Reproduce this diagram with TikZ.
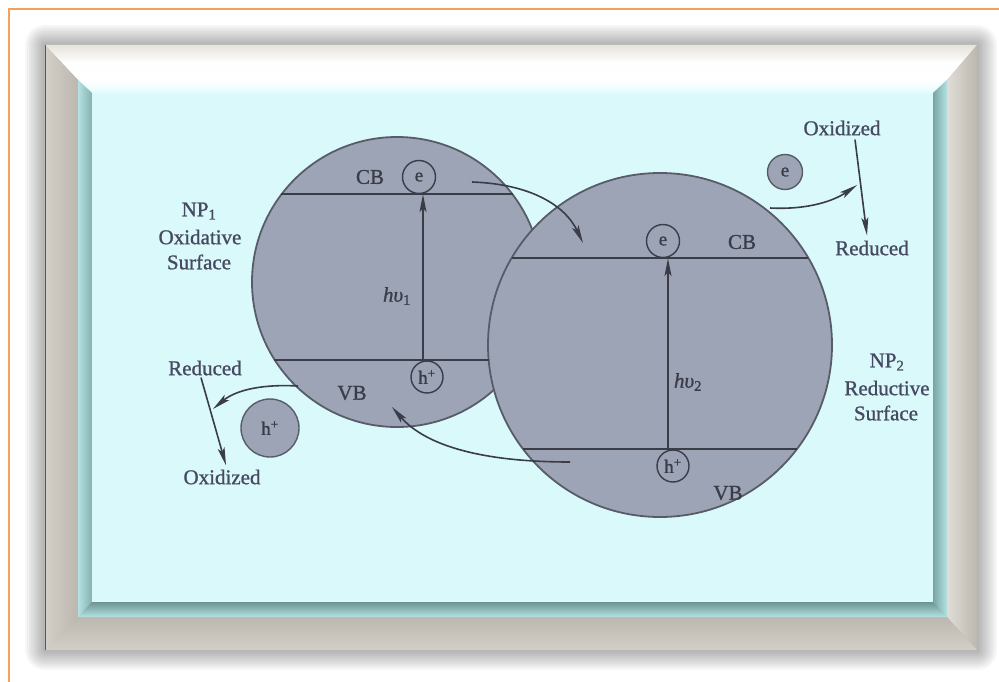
\documentclass[tikz,border=0pt]{standalone}
\usepackage{fontspec}
\setmainfont{Liberation Serif}
\newfontfamily\labelfont{Liberation Serif}[FakeBold=1.0]
\usetikzlibrary{arrows.meta,calc}

\definecolor{orangeline}{HTML}{F5A05C}
\definecolor{panel}{HTML}{D9F9FA}
\definecolor{framelight}{HTML}{D3CFC8}
\definecolor{framedark}{HTML}{BCB8AF}
\definecolor{topbeige}{HTML}{E6E3DA}
\definecolor{bevellight}{HTML}{B4E2E2}
\definecolor{beveldark}{HTML}{78A4A4}
\definecolor{discfill}{HTML}{9CA4B6}
\definecolor{discedge}{HTML}{585C69}
\definecolor{lineink}{HTML}{3A3C48}
\definecolor{labelink}{HTML}{474962}

\tikzset{
  bigdisc/.style={circle, draw=discedge, fill=discfill, line width=1.8pt, inner sep=0pt},
  smalldisc/.style={circle, draw=lineink, line width=1.4pt, inner sep=0pt,
    minimum size=33pt, font=\labelfont\fontsize{19}{20}\selectfont, text=lineink},
  loosedisc/.style={smalldisc, fill=discfill, draw=discedge},
  bandline/.style={draw=lineink, line width=1.9pt},
  flow/.style={draw=lineink, line width=1.6pt,
    -{Stealth[length=18pt,width=7pt,inset=4pt]}},
  lbl/.style={text=labelink, font=\labelfont\fontsize{21}{25}\selectfont, inner sep=0pt, align=center},
  inlbl/.style={lbl, text=lineink},
}

\begin{document}
\begin{tikzpicture}[x=1pt,y=-1pt]
\useasboundingbox (0,0) rectangle (999,682);
\fill[white] (0,0) rectangle (999,682);

% page rule
\draw[orangeline, line width=2pt] (9,682) -- (9,9) -- (999,9);

% soft halo round the frame
\foreach \i in {1,...,10}{
  \fill[black, opacity=.03, rounded corners={2pt*\i}]
    ({45-2*\i},{45-2*\i}) rectangle ({977+2*\i},{650+2*\i});
}

% mitred frame
\shade[top color=topbeige, bottom color=white, middle color=white!96!topbeige]
  (45,45) -- (977,45) -- (947,80) -- (78,80) -- cycle;
\shade[left color=framelight, right color=framedark]
  (45,45) -- (78,80) -- (78,617) -- (45,650) -- cycle;
\shade[left color=framelight!70!white, right color=framedark]
  (977,45) -- (977,650) -- (947,617) -- (947,80) -- cycle;
\shade[top color=framedark, bottom color=framelight]
  (45,650) -- (78,617) -- (947,617) -- (977,650) -- cycle;
\draw[gray!70!black, line width=1pt] (45,45) -- (45,650);

% inner bevel
\shade[top color=white, bottom color=panel!70!white]
  (78,80) -- (947,80) -- (933,93) -- (92,93) -- cycle;
\shade[left color=bevellight, right color=beveldark!80!bevellight]
  (78,80) -- (92,93) -- (92,602) -- (78,617) -- cycle;
\shade[left color=beveldark, right color=bevellight]
  (947,80) -- (947,617) -- (933,602) -- (933,93) -- cycle;
\shade[top color=beveldark!90!black, bottom color=bevellight]
  (78,617) -- (92,602) -- (933,602) -- (947,617) -- cycle;

% panel
\fill[panel] (92,93) rectangle (933,602);

% NP1 particle (radius 145) with its conduction band edge
\node[bigdisc, minimum size=290pt] (np1) at (397,282) {};
\draw[bandline] ($(np1.center)+(-116,-88)$) -- ($(np1.center)+(116,-88)$);

% NP2 particle (radius 172) drawn over NP1
\node[bigdisc, minimum size=344pt] (np2) at (660,345) {};
\draw[bandline] ($(np1.center)+(-123,78)$) -- ($(np2.center)+(-171,15)$);
\draw[bandline] ($(np2.center)+(-148,-87)$) -- ($(np2.center)+(148,-87)$);
\draw[bandline] ($(np2.center)+(-137,104)$) -- ($(np2.center)+(137,104)$);

% carriers
\node[smalldisc] (e1) at (419,177) {e};
\node[smalldisc, minimum size=32pt] (h1) at (427,377) {h\textsuperscript{+}};
\node[smalldisc] (e2) at (663,241) {e};
\node[smalldisc, minimum size=32pt] (h2) at (673,466) {h\textsuperscript{+}};
\node[loosedisc, minimum size=58pt] (hfree) at (270,428) {h\textsuperscript{+}};
\node[loosedisc, minimum size=35pt] (efree) at (785,172) {e};

% excitation arrows
\draw[flow] ([xshift=-4pt]h1.north) -- ([xshift=4pt]e1.south);
\draw[flow] ([xshift=-5pt]h2.north) -- ([xshift=5pt]e2.south);

% charge transfer
\coordinate (cbout) at (472,182);
\coordinate (cbin) at (583,243);
\draw[flow] (cbout) .. controls (530,184) and (565,205) .. (cbin);

\coordinate (vbout) at (570,462);
\coordinate (vbin) at (392,407);
\draw[flow] (vbout) .. controls (480,462) and (425,445) .. (vbin);

% surface reactions
\coordinate (leftedge) at (298,386);
\coordinate (lefttip) at (213,409);
\draw[flow] (leftedge) .. controls (262,384) and (236,390) .. (lefttip);

\coordinate (rightedge) at (770,208);
\coordinate (righttip) at (857,185);
\draw[flow] (rightedge) .. controls (810,210) and (835,200) .. (righttip);

\node[lbl] (redL) at (205,368) {Reduced};
\node[lbl] (oxL) at (222,477) {Oxidized};
\draw[flow] ([xshift=-4pt, yshift=-2pt]redL.south) -- ([xshift=4pt, yshift=4pt]oxL.north);

\node[lbl] (oxR) at (842,128) {Oxidized};
\node[lbl] (redR) at (872,248) {Reduced};
\draw[flow] ([xshift=13pt, yshift=-4pt]oxR.south) -- ([xshift=-5pt, yshift=5pt]redR.north);

% band and particle labels
\node[inlbl] (cb1) at (370,177) {CB};
\node[inlbl] (vb1) at (352,393) {VB};
\node[inlbl] (hv1) at (397,296) {\textit{hυ}\textsubscript{1}};
\node[inlbl] (cb2) at (742,242) {CB};
\node[inlbl] (vb2) at (728,493) {VB};
\node[inlbl] (hv2) at (688,382) {\textit{hυ}\textsubscript{2}};

\node[lbl] (np1name) at (199,211) {NP\textsubscript{1}};
\node[lbl] (np1kind) at (200,237) {Oxidative};
\node[lbl] (np1surf) at (199,262) {Surface};
\node[lbl] (np2name) at (887,362) {NP\textsubscript{2}};
\node[lbl] (np2kind) at (887,388) {Reductive};
\node[lbl] (np2surf) at (886,413) {Surface};
\end{tikzpicture}
\end{document}
